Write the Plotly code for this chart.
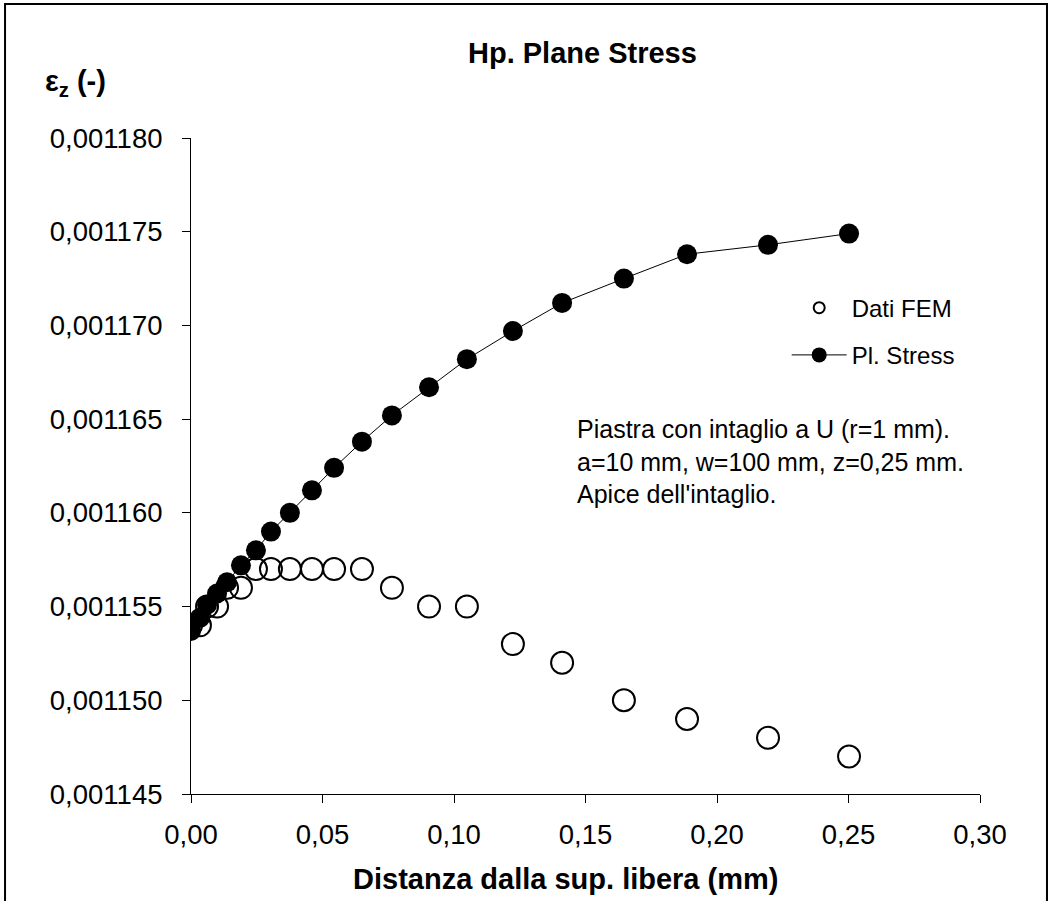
import plotly.graph_objects as go

# Distance from the free surface (mm), FEM nodes along the notch bisector
distanza = [0.0, 0.0034, 0.0061, 0.0099, 0.0137, 0.0190, 0.0247, 0.0304, 0.0376,
            0.0460, 0.0544, 0.0650, 0.0764, 0.0905, 0.1049, 0.1224, 0.1411,
            0.1646, 0.1886, 0.2194, 0.2502]

# Strain eps_z from the FEM model
eps_fem = [0.001154, 0.001154, 0.001155, 0.001155, 0.001156, 0.001156, 0.001157,
           0.001157, 0.001157, 0.001157, 0.001157, 0.001157, 0.001156, 0.001155,
           0.001155, 0.001153, 0.001152, 0.001150, 0.001149, 0.001148, 0.001147]

# Strain eps_z under the plane-stress hypothesis
eps_pl_stress = [0.0011537, 0.0011544, 0.0011551, 0.0011557, 0.0011563, 0.0011572,
                 0.0011580, 0.0011590, 0.0011600, 0.0011612, 0.0011624, 0.0011638,
                 0.0011652, 0.0011667, 0.0011682, 0.0011697, 0.0011712, 0.0011725,
                 0.0011738, 0.0011743, 0.0011749]

FONT = "Liberation Sans, Arial, sans-serif"

fig = go.Figure()

fig.add_trace(go.Scatter(
    x=distanza, y=eps_fem, mode="markers", showlegend=False,
    marker=dict(symbol="circle-open", size=22, color="black", line=dict(width=2, color="black")),
))
fig.add_trace(go.Scatter(
    x=distanza, y=eps_pl_stress, mode="lines+markers", showlegend=False,
    line=dict(color="black", width=1),
    marker=dict(symbol="circle", size=20, color="black"),
))

# legend entries (empty traces so the legend symbols keep their own size)
fig.add_trace(go.Scatter(
    x=[None], y=[None], mode="markers", name="Dati FEM", legendgroup="a",
    marker=dict(symbol="circle-open", size=11, color="black", line=dict(width=2, color="black")),
))
fig.add_trace(go.Scatter(
    x=[None], y=[None], mode="lines+markers", name="Pl. Stress", legendgroup="b",
    line=dict(color="black", width=1),
    marker=dict(symbol="circle", size=15, color="black"),
))

axis_common = dict(
    showgrid=False, zeroline=False, showline=True, linecolor="black", linewidth=1,
    ticks="outside", ticklen=8, tickcolor="black", tickwidth=1,
    tickfont=dict(family=FONT, size=27.5, color="black"),
)

fig.update_xaxes(range=[0, 0.30], dtick=0.05, tick0=0, tickformat=".2f",
                 ticklabelstandoff=8, **axis_common)
fig.update_yaxes(range=[0.001145, 0.001180], dtick=0.000005, tick0=0.001145,
                 tickformat=".6f", ticklabelstandoff=14, **axis_common)

fig.update_layout(
    width=1053, height=901,
    margin=dict(l=191, r=73, t=138, b=107),
    paper_bgcolor="white", plot_bgcolor="white",
    separators=",.",
    font=dict(family=FONT, color="black"),
    legend=dict(
        x=0.755, y=0.775, xanchor="left", yanchor="top",
        font=dict(family=FONT, size=24, color="black"),
        itemwidth=55, tracegroupgap=13, bgcolor="rgba(0,0,0,0)",
    ),
    shapes=[dict(
        type="rect", xref="paper", yref="paper",
        x0=-0.2357, x1=1.0849, y0=-0.2, y1=1.2043,
        line=dict(color="black", width=2), fillcolor="rgba(0,0,0,0)",
    )],
    annotations=[
        dict(text="<b>Hp. Plane Stress</b>", xref="paper", yref="paper",
             x=0.4956, y=1.1296, xanchor="center", yanchor="middle", showarrow=False,
             font=dict(family=FONT, size=29, color="black")),
        dict(text="<b>ε<sub>z</sub> (-)</b>", xref="paper", yref="paper",
             x=-0.187, y=1.0838, xanchor="left", yanchor="middle", showarrow=False,
             font=dict(family=FONT, size=29, color="black")),
        dict(text="<b>Distanza dalla sup. libera (mm)</b>", xref="paper", yref="paper",
             x=0.475, y=-0.1295, xanchor="center", yanchor="middle", showarrow=False,
             font=dict(family=FONT, size=29, color="black")),
        dict(text="Piastra con intaglio a U (r=1 mm).<br>a=10 mm, w=100 mm, z=0,25 mm.<br>Apice dell'intaglio.",
             xref="paper", yref="paper", x=0.4867, y=0.5076, xanchor="left", yanchor="middle",
             align="left", showarrow=False,
             font=dict(family=FONT, size=25, color="black")),
    ],
)

fig.write_html("out.html")
